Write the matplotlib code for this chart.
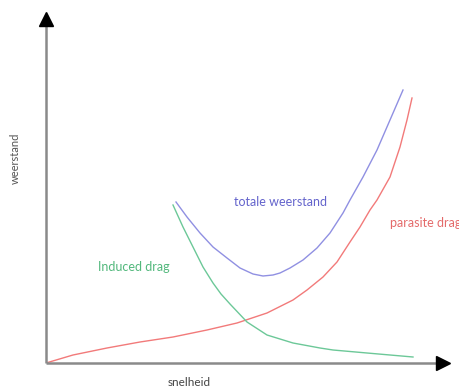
import matplotlib
matplotlib.use("Agg")
import matplotlib.pyplot as plt

# Data (speed x, drag y in arbitrary units)
parasite_x = [0, 27, 61, 94, 127, 161, 191, 221, 247, 261, 277, 291, 304, 314, 324, 331, 344, 354, 361, 366]
parasite_y = [0, 8, 15, 21, 26, 33, 40, 50, 63, 73, 86, 101, 121, 136, 153, 163, 186, 216, 243, 265]

total_x = [130, 141, 154, 167, 181, 194, 207, 217, 227, 234, 244, 257, 271, 284, 297, 304, 317, 331, 344, 357]
total_y = [161, 146, 130, 116, 105, 95, 89, 87, 88, 90, 95, 103, 115, 130, 150, 163, 186, 213, 243, 273]

induced_x = [127, 137, 147, 157, 167, 175, 184, 201, 221, 247, 274, 287, 321, 367]
induced_y = [158, 136, 116, 96, 80, 69, 59, 41, 28, 20, 15, 13, 10, 6]

x_label = "snelheid"
y_label = "weerstand"
label_total = "totale weerstand"
label_parasite = "parasite drag"
label_induced = "Induced drag"

plt.rcParams['font.family'] = ['Lato', 'DejaVu Sans']

fig = plt.figure(figsize=(4.6, 3.88), dpi=100)
ax = fig.add_axes([46/460, 25/388, 410/460, 355/388])
ax.set_xlim(0, 410)
ax.set_ylim(0, 355)
ax.axis('off')

ax.plot(parasite_x, parasite_y, color='#f27a7a', lw=1.0)
ax.plot(total_x, total_y, color='#9090e2', lw=1.0)
ax.plot(induced_x, induced_y, color='#6cc898', lw=1.0)

# axes with arrows
ax.plot([0, 0], [0, 340], color='#8a8a8a', lw=1.8, solid_capstyle='butt', clip_on=False)
ax.plot([0, 392], [0, 0], color='#8a8a8a', lw=1.8, solid_capstyle='butt', clip_on=False)
ax.plot([0], [344], marker='^', color='black', markersize=10, clip_on=False)
ax.plot([397], [0], marker='>', color='black', markersize=10, clip_on=False)

ax.text(235, 161, label_total, color='#6464cc', fontsize=9, ha='center', va='center')
ax.text(344, 140, label_parasite, color='#e46a6a', fontsize=9, ha='left', va='center', clip_on=False)
ax.text(88, 96, label_induced, color='#52b87c', fontsize=9, ha='center', va='center')
ax.text(143, -20, x_label, color='#444444', fontsize=8.5, ha='center', va='center', clip_on=False)
ax.text(-31, 205, y_label, color='#555555', fontsize=8, ha='center', va='center', rotation=90, clip_on=False)

fig.savefig("out.png", dpi=100)
